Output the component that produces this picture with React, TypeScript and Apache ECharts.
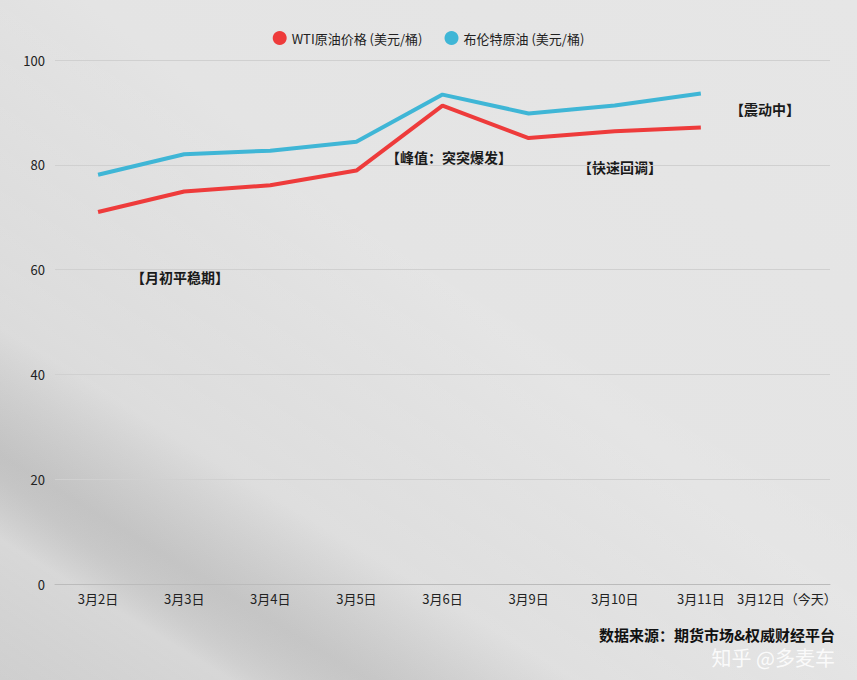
import React, { useEffect, useRef } from "react";
import * as echarts from "echarts";

const categories = ["3月2日", "3月3日", "3月4日", "3月5日", "3月6日", "3月9日", "3月10日", "3月11日", "3月12日（今天）"];
const wtiValues: (number | null)[] = [71.0, 74.9, 76.1, 78.9, 91.3, 85.1, 86.4, 87.1, null];
const brentValues: (number | null)[] = [78.1, 82.0, 82.7, 84.4, 93.4, 89.8, 91.3, 93.6, null];
const yTicks = { min: 0, max: 100, interval: 20 };
const seriesNames = ["WTI原油价格 (美元/桶)", "布伦特原油 (美元/桶)"];
const annotations = ["【月初平稳期】", "【峰值：突突爆发】", "【快速回调】", "【震动中】"];
const sourceText = "数据来源：期货市场&权威财经平台";
const watermarkText = "知乎 @多麦车";

export default function App() {
  const ref = useRef<HTMLDivElement>(null);
  useEffect(() => {
    document.body.style.margin = "0";
    const chart = echarts.init(ref.current!, null, { renderer: "svg" });
    const annPos = [
      [180, 277],
      [449, 157],
      [620, 167],
      [765, 109],
    ];
    chart.setOption({
      animation: false,
      backgroundColor: {
        type: "linear",
        x: 1,
        y: 0,
        x2: 0,
        y2: 1,
        colorStops: [
          { offset: 0, color: "#e6e6e6" },
          { offset: 0.45, color: "#e4e4e4" },
          { offset: 0.7, color: "#d6d6d6" },
          { offset: 0.85, color: "#c9c9c9" },
          { offset: 1, color: "#cfcfcf" },
        ],
      },
      textStyle: { fontFamily: "'Noto Sans CJK SC', 'Noto Sans', sans-serif" },
      legend: {
        top: 26,
        left: "center",
        itemWidth: 14,
        itemHeight: 14,
        itemGap: 22,
        icon: "circle",
        textStyle: { fontSize: 13, color: "#222" },
        data: seriesNames,
      },
      grid: { left: 55, right: 27, top: 60, bottom: 96, containLabel: false },
      xAxis: {
        type: "category",
        data: categories,
        boundaryGap: true,
        axisLine: { lineStyle: { color: "#bbb" } },
        axisTick: { show: false },
        axisLabel: { color: "#222", fontSize: 13, margin: 8, interval: 0 },
      },
      yAxis: {
        type: "value",
        min: yTicks.min,
        max: yTicks.max,
        interval: yTicks.interval,
        axisLine: { show: false },
        axisTick: { show: false },
        axisLabel: { color: "#222", fontSize: 13, margin: 10 },
        splitLine: { lineStyle: { color: "#d0d0d0", width: 1 } },
      },
      series: [
        {
          name: seriesNames[0],
          type: "line",
          data: wtiValues,
          symbol: "none",
          color: "#ee3b3b",
          lineStyle: { width: 4, color: "#ee3b3b" },
        },
        {
          name: seriesNames[1],
          type: "line",
          data: brentValues,
          symbol: "none",
          color: "#3fb6d6",
          lineStyle: { width: 4, color: "#3fb6d6" },
        },
      ],
      graphic: [
        {
          type: "rect",
          silent: true,
          z: -1,
          shape: { x: 0, y: 0, width: 857, height: 680 },
          style: {
            fill: {
              type: "linear",
              x: 0,
              y: 1,
              x2: 0.5,
              y2: 0.35,
              colorStops: [
                { offset: 0, color: "rgba(255,255,255,0)" },
                { offset: 0.2, color: "rgba(255,255,255,0.25)" },
                { offset: 0.32, color: "rgba(150,150,150,0.15)" },
                { offset: 0.5, color: "rgba(255,255,255,0.2)" },
                { offset: 1, color: "rgba(255,255,255,0)" },
              ],
            },
          },
        },
        ...annotations.map((t, i) => ({
          type: "text",
          x: annPos[i][0],
          y: annPos[i][1],
          style: {
            text: t,
            fill: "#1a1a1a",
            font: "bold 14px 'Noto Sans CJK SC', sans-serif",
            textAlign: "center",
            textVerticalAlign: "middle",
          },
        })),
        {
          type: "text",
          right: 22,
          top: 627,
          style: {
            text: sourceText,
            fill: "#111",
            font: "bold 15px 'Noto Sans CJK SC', sans-serif",
          },
        },
        {
          type: "text",
          right: 22,
          top: 647,
          style: {
            text: watermarkText,
            fill: "rgba(255,255,255,0.85)",
            font: "20px 'Noto Sans CJK SC', sans-serif",
          },
        },
      ],
    });
    return () => chart.dispose();
  }, []);
  return <div ref={ref} style={{ width: 857, height: 680 }} />;
}
